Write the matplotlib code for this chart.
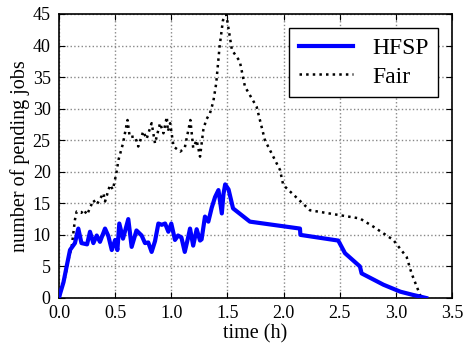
import matplotlib
matplotlib.use("Agg")
import matplotlib.pyplot as plt

# HFSP series (time in hours, pending jobs)
hfsp_t = [0.0, 0.01, 0.04, 0.068, 0.098, 0.142, 0.172, 0.2, 0.25, 0.276, 0.306,
          0.336, 0.365, 0.41, 0.44, 0.47, 0.5, 0.52, 0.537, 0.57, 0.617, 0.647,
          0.69, 0.736, 0.766, 0.795, 0.825, 0.855, 0.885, 0.915, 0.945, 0.974,
          1.0, 1.033, 1.06, 1.09, 1.12, 1.15, 1.167, 1.195, 1.226, 1.256, 1.27,
          1.30, 1.33, 1.36, 1.39, 1.42, 1.45, 1.465, 1.48, 1.51, 1.55, 1.70,
          2.146, 2.15, 2.487, 2.547, 2.68, 2.695, 2.89, 3.04, 3.15, 3.27]
hfsp_v = [0.0, 0.7, 2.5, 5.0, 7.6, 8.7, 11.0, 8.7, 8.5, 10.5, 8.7,
          9.9, 8.9, 11.0, 9.8, 7.6, 9.2, 7.6, 11.8, 9.4, 12.5, 8.1,
          10.7, 9.9, 8.7, 8.8, 7.3, 9.0, 11.8, 11.6, 11.8, 10.5,
          11.8, 9.2, 9.9, 9.6, 7.3, 9.6, 11.0, 8.3, 10.9, 9.1, 9.3,
          12.9, 12.1, 14.3, 16.0, 17.1, 13.4, 16.5, 18.0, 17.2, 14.2, 12.1,
          11.0, 10.0, 9.1, 7.1, 5.0, 3.9, 2.1, 1.0, 0.5, 0.0]

# Fair series
fair_t = [0.0, 0.01, 0.05, 0.09, 0.113, 0.142, 0.157, 0.2, 0.22, 0.25, 0.306,
          0.336, 0.395, 0.41, 0.454, 0.48, 0.51, 0.53, 0.57, 0.61, 0.63, 0.677,
          0.706, 0.75, 0.78, 0.825, 0.855, 0.9, 0.93, 0.96, 0.97, 0.99, 1.02,
          1.08, 1.12, 1.17, 1.195, 1.226, 1.256, 1.285, 1.31, 1.345, 1.374,
          1.40, 1.43, 1.46, 1.49, 1.54, 1.61, 1.656, 1.76, 1.834, 1.968, 1.997,
          2.235, 2.68, 2.80, 2.977, 3.096, 3.14, 3.215, 3.23]
fair_v = [0.0, 0.8, 3.0, 6.5, 8.1, 12.4, 13.7, 13.5, 14.0, 13.2, 15.5,
          14.8, 16.6, 15.3, 17.9, 17.2, 19.7, 21.9, 24.5, 28.2, 25.5, 25.6,
          24.0, 26.4, 25.2, 27.7, 24.5, 27.7, 26.1, 28.7, 26.4, 27.7, 24.0,
          23.2, 23.8, 28.2, 23.8, 25.0, 22.4, 26.6, 28.2, 29.3, 31.1,
          34.0, 39.8, 44.0, 44.9, 39.3, 37.5, 33.5, 30.3, 25.0, 20.3, 17.9,
          13.9, 12.6, 11.3, 9.2, 6.5, 3.9, 0.5, 0.0]

x_ticks = [0.0, 0.5, 1.0, 1.5, 2.0, 2.5, 3.0, 3.5]
y_ticks = [0, 5, 10, 15, 20, 25, 30, 35, 40, 45]

plt.rcParams['font.family'] = ['Liberation Serif', 'DejaVu Serif']
plt.rcParams['xtick.direction'] = 'in'
plt.rcParams['ytick.direction'] = 'in'

fig = plt.figure(figsize=(4.63, 3.43), dpi=100)
ax = fig.add_axes([59/463, 1-298/343, (452-59)/463, (298-14)/343])

ax.plot(hfsp_t, hfsp_v, color='#0000ff', lw=3, label='HFSP', zorder=3)
ax.plot(fair_t, fair_v, color='black', lw=1.8, ls=':', label='Fair', zorder=2)

ax.set_xlim(0, 3.5)
ax.set_ylim(0, 45)
ax.set_xticks(x_ticks)
ax.set_xticklabels([f"{v:.1f}" for v in x_ticks])
ax.set_yticks(y_ticks)
ax.tick_params(labelsize=13, top=True, right=True, length=4)
ax.tick_params(axis='x', pad=5)
ax.tick_params(axis='y', pad=6)
ax.grid(True, color='#888888', ls=':', lw=1)
ax.set_xlabel('time (h)', fontsize=14.5, labelpad=2)
ax.set_ylabel('number of pending jobs', fontsize=14.5, labelpad=2)
for s in ax.spines.values():
    s.set_linewidth(1.2)

leg = ax.legend(loc='upper right', fontsize=17, fancybox=False, edgecolor='black',
                framealpha=1, handlelength=2.3, borderpad=0.4, labelspacing=0.3,
                borderaxespad=0.6)
leg.get_frame().set_linewidth(1.0)

fig.savefig('out.png', dpi=100)
